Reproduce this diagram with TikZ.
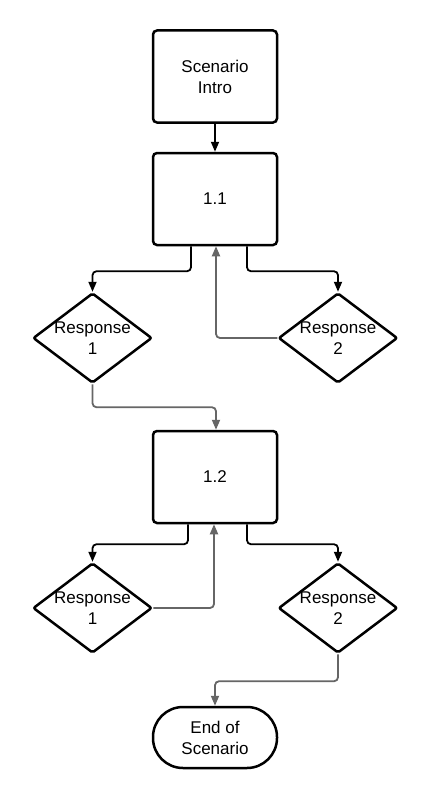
\documentclass[tikz,border=0pt]{standalone}
\usepackage{fontspec}
\setmainfont{Liberation Sans}
\usetikzlibrary{shapes.geometric,arrows.meta}
\begin{document}
\begin{tikzpicture}[x=1pt,y=-1pt,
  every node/.style={font=\fontsize{17}{21}\selectfont, align=center},
  boxnode/.style={draw=black, line width=2.5pt, rounded corners=4pt, minimum width=124pt, minimum height=92pt, inner sep=0pt},
  dnode/.style={draw=black, line width=2.5pt, diamond, rounded corners=2pt, minimum width=119pt, minimum height=90pt, inner sep=-14pt},
  endnode/.style={draw=black, line width=2.5pt, rectangle, rounded corners=30pt, minimum width=124pt, minimum height=61pt, inner sep=0pt},
  blk/.style={draw=black, line width=1.8pt, rounded corners=4pt, -{Triangle[length=10pt,width=8pt]}},
  gry/.style={draw=black!60, line width=1.8pt, rounded corners=4pt, -{Triangle[length=10pt,width=8pt]}}
]
\useasboundingbox (0,0) rectangle (430,800);
\fill[white] (0,0) rectangle (430,800);
\node[boxnode] (intro) at (215,76.5) {Scenario\\Intro};
\node[boxnode] (s11) at (215,199) {1.1};
\node[dnode] (r1) at (92.5,338) {Response\\1};
\node[dnode] (r2) at (338,338) {Response\\2};
\node[boxnode] (s12) at (215,477) {1.2};
\node[dnode] (r3) at (92.5,608) {Response\\1};
\node[dnode] (r4) at (338,608) {Response\\2};
\node[endnode] (end) at (215,737.5) {End of\\Scenario};

\draw[blk] (intro.south) -- (s11.north);
\draw[blk] ([xshift=-24pt]s11.south) -- ++(0,25) -| (r1.north);
\draw[blk] ([xshift=32pt]s11.south) -- ++(0,25) -| (r2.north);
\draw[gry] (r2.west) -| ([xshift=1pt]s11.south);
\draw[gry] (r1.south) -- ++(0,23) -| ([xshift=1pt]s12.north);
\draw[blk] ([xshift=-27pt]s12.south) -- ++(0,20) -| (r3.north);
\draw[blk] ([xshift=32pt]s12.south) -- ++(0,20) -| (r4.north);
\draw[gry] (r3.east) -| ([xshift=-1pt]s12.south);
\draw[gry] (r4.south) -- ++(0,27) -| (end.north);
\end{tikzpicture}
\end{document}
